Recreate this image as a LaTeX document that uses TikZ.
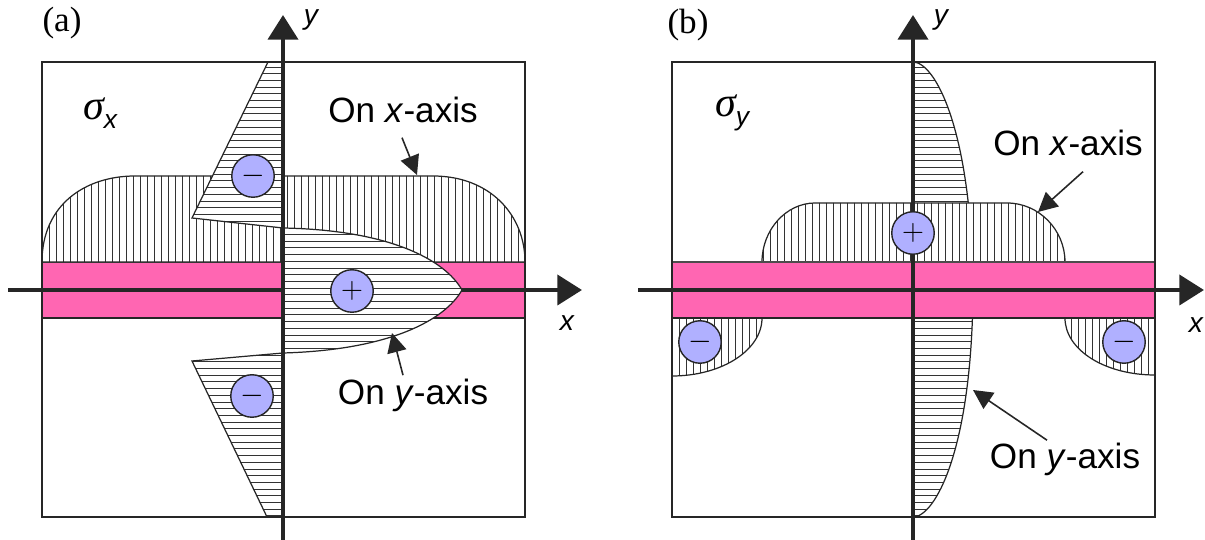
\documentclass[tikz,border=0pt]{standalone}
\usepackage{fontspec}
\setmainfont{Liberation Sans}
\newfontfamily\panelfont{Liberation Serif}
\usetikzlibrary{arrows.meta,calc}
\definecolor{stripepink}{RGB}{255,102,178}
\definecolor{signblue}{RGB}{176,176,255}
\tikzset{
  frame/.style={line width=1.6pt,black!85},
  axisline/.style={line width=2.4pt,black!85,-{Triangle[width=17pt,length=14pt]}},
  callout/.style={line width=0.9pt,black!85,-{Triangle[width=11pt,length=11pt]}},
  hatchline/.style={line width=0.5pt,black!80},
  hatchv/.style={draw=black!85,line width=0.7pt,fill=white,
    path picture={\foreach \hx in {0,7,...,1205} \draw[hatchline] (\hx,0) -- (\hx,540);}},
  hatchh/.style={draw=black!85,line width=0.7pt,fill=white,
    path picture={\foreach \hy in {0,6.7,...,540} \draw[hatchline] (0,\hy) -- (1205,\hy);}},
  band/.style={fill=stripepink,draw=black!70,line width=0.6pt},
  sign/.style={circle,draw=black!85,line width=0.8pt,fill=signblue,
    minimum size=0.85cm,inner sep=0pt,font=\fontsize{18}{18}\selectfont},
  lbl/.style={font=\fontsize{20}{22}\selectfont,inner sep=0pt,anchor=base},
  axlbl/.style={font=\fontsize{16}{18}\selectfont\itshape},
  panlbl/.style={font=\fontsize{20}{22}\selectfont\panelfont},
  siglbl/.style={font=\fontsize{24}{26}\selectfont\panelfont\itshape}
}
\newcommand{\sigsub}[1]{\raisebox{-0.22em}{\fontsize{15}{15}\selectfont\normalfont\itshape #1}}
\begin{document}
\begin{tikzpicture}[x=0.02cm,y=-0.02cm]
  \useasboundingbox (0,0) rectangle (1205,540);
  % ---- panel (a): sigma_x
  \draw[band] (42,262) rectangle (525,318);
  \draw[frame] (42,318) -- (525,318);
  \path[hatchv] (42,262) .. controls (42,205) and (85,176) .. (135,176)
    -- (433,176) .. controls (490,176) and (525,215) .. (525,262) -- cycle;
  \path[hatchh] (283,62) -- (268,62) -- (192,218) -- (283,228) -- cycle;
  \coordinate (xa0) at (8,290);
  \coordinate (xa1) at (582,290);
  \draw[axisline] (xa0) -- (xa1);
  \path[hatchh] (283,228) .. controls (390,230) and (445,260) .. (462,290)
    .. controls (445,320) and (390,350) .. (283,353) -- cycle;
  \path[hatchh] (283,353) -- (192,361) -- (267,517) -- (283,517) -- cycle;
  \draw[frame] (42,62) rectangle (525,517);
  \coordinate (ya0) at (283,540);
  \coordinate (ya1) at (283,15);
  \draw[axisline] (ya0) -- (ya1);
  \node[sign] (minA1) at (253,176) {$-$};
  \node[sign] (minA2) at (252,396) {$-$};
  \node[sign] (plusA) at (352,291) {$+$};
  \node[panlbl] (panA) at (62,23) {(a)};
  \node[siglbl] (sigA) at (100,113) {σ\sigsub{x}};
  \node[axlbl] (yaxA) at (311,20) {y};
  \node[axlbl] (xaxA) at (567,323) {x};
  \node[lbl] (xlabA) at (403,123) {On \textit{x}-axis};
  \node[lbl] (ylabA) at (413,405) {On \textit{y}-axis};
  \coordinate (xtipA) at (417,175);
  \coordinate (ytipA) at (392,333);
  \draw[callout] ($(xlabA.south)+(-1,14)$) -- (xtipA);
  \draw[callout] ($(ylabA.north)+(-10,-4)$) -- (ytipA);
  % ---- panel (b): sigma_y
  \path[hatchh] (913,62) .. controls (935,62) and (972,130) .. (973,290)
    .. controls (972,450) and (935,517) .. (913,517) -- cycle;
  \path[hatchv] (762,262) .. controls (762,230) and (786,203) .. (815,203)
    -- (1007,203) .. controls (1039,203) and (1065,230) .. (1065,262) -- cycle;
  \path[hatchv] (672,318) -- (762,318) .. controls (762,350) and (722,376) .. (672,376) -- cycle;
  \path[hatchv] (1155,318) -- (1065,318) .. controls (1065,350) and (1105,375) .. (1155,375) -- cycle;
  \draw[band] (672,262) rectangle (1155,318);
  \draw[frame] (672,318) -- (1155,318);
  \draw[frame] (672,62) rectangle (1155,517);
  \coordinate (xb0) at (638,290);
  \coordinate (xb1) at (1204,290);
  \draw[axisline] (xb0) -- (xb1);
  \coordinate (yb0) at (913,540);
  \coordinate (yb1) at (913,15);
  \draw[axisline] (yb0) -- (yb1);
  \node[sign] (plusB) at (913,233) {$+$};
  \node[sign] (minB1) at (700,342) {$-$};
  \node[sign] (minB2) at (1124,342) {$-$};
  \node[panlbl] (panB) at (688,25) {(b)};
  \node[siglbl] (sigB) at (732,113) {σ\sigsub{y}};
  \node[axlbl] (yaxB) at (941,20) {y};
  \node[axlbl] (xaxB) at (1196,325) {x};
  \node[lbl] (xlabB) at (1068,156) {On \textit{x}-axis};
  \node[lbl] (ylabB) at (1065,469) {On \textit{y}-axis};
  \coordinate (xtipB) at (1038,212);
  \coordinate (ytipB) at (973,390);
  \draw[callout] ($(xlabB.south)+(15,15)$) -- (xtipB);
  \draw[callout] ($(ylabB.north)+(-18,-3)$) -- (ytipB);
\end{tikzpicture}
\end{document}
